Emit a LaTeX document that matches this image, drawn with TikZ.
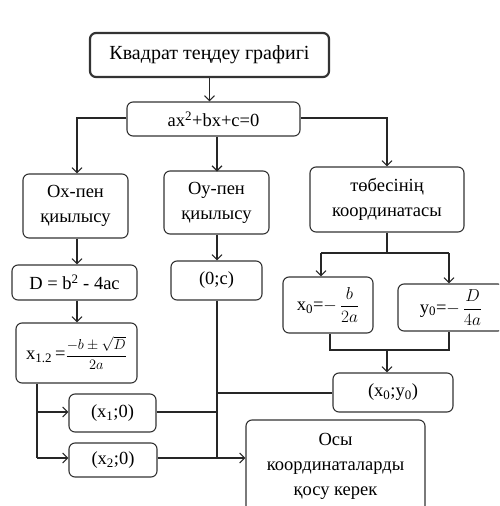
\documentclass[tikz,border=0pt]{standalone}
\usepackage{fontspec}
\setmainfont{Liberation Serif}
\usetikzlibrary{arrows.meta}
\tikzset{
  box/.style={draw=black!80, line width=1.1pt, rounded corners=6pt, inner sep=0pt, align=center, font=\fontsize{18.5}{25}\selectfont},
  conn/.style={draw=black!85, line width=1.1pt},
  arr/.style={conn, -{Straight Barb[length=5pt,width=10pt,line width=1.1pt]}},
}
\newcommand{\bx}[6]{\node[box, minimum width=#4pt, minimum height=#5pt, #6] (#1) at (#2,#3)}
\newcommand{\fr}[3]{{\fontsize{#1}{#1}\selectfont$\displaystyle\frac{#2}{#3}$}}
\begin{document}
\begin{tikzpicture}[x=1pt,y=-1pt]
\useasboundingbox (0,0) rectangle (499,506);
\clip (0,0) rectangle (499,506);
% nodes
\bx{title}{209.5}{55}{239}{44}{line width=2.2pt, font=\fontsize{20}{24}\selectfont}{Квадрат теңдеу графигі};
\bx{eq}{213.5}{119}{173}{34}{font=\fontsize{18.5}{22}\selectfont}{ax\textsuperscript{2}+bx+c=0};
\bx{ox}{75.5}{206}{105}{64}{}{Ох-пен\\қиылысу};
\bx{oy}{216.5}{202.5}{105}{63}{}{Оу-пен\\қиылысу};
\bx{tobe}{387}{199.5}{154}{65}{}{төбесінің\\координатасы};
\bx{D}{74.5}{282.5}{125}{35}{}{D = b\textsuperscript{2} - 4ac};
\bx{oc}{216.5}{280.5}{91}{39}{}{(0;c)};
\bx{xz}{328}{305}{90}{56}{}{x\textsubscript{0}=$-$\,\fr{17}{b}{2a}};
\bx{yz}{451}{307.5}{106}{47}{}{y\textsubscript{0}=$-$\,\fr{17}{D}{4a}};
\bx{xot}{76.5}{353}{121}{60}{}{x\textsubscript{1.2}\,=\fr{15}{-b\pm\sqrt{D}}{2a}};
\bx{xa}{112.5}{413}{87}{38}{}{(x\textsubscript{1};0)};
\bx{xb}{113}{460}{88}{34}{}{(x\textsubscript{2};0)};
\bx{xy}{393}{392.5}{120}{39}{}{(x\textsubscript{0};y\textsubscript{0})};
\bx{osy}{335.5}{466}{179}{92}{}{Осы\\координаталарды\\қосу керек};
% helper coordinates
\coordinate (eqL) at (77,118);
\coordinate (eqR) at (387,118);
\coordinate (tb) at (387,253);
\coordinate (tbL) at (321,253);
\coordinate (tbR) at (449,253);
\coordinate (mj) at (387,350);
\coordinate (mjL) at (330,350);
\coordinate (mjR) at (449,350);
\coordinate (lx) at (37,412);
\coordinate (lxb) at (37,458);
\coordinate (vA) at (217,412);
\coordinate (vB) at (217,458);
\coordinate (vC) at (217,393);
% connectors
\draw[arr] (title.south) -- (title.south |- eq.north);
\draw[arr] (eq.south -| oy.north) ++(0.5,0) -- ++(0,35);
\draw[arr] (eq.west |- eqL) -- (eqL) -- (eqL |- ox.north);
\draw[arr] (eq.east |- eqR) -- (eqR) -- (eqR |- tobe.north);
\draw[arr] (ox.south -| eqL) -- (eqL |- D.north);
\draw[arr] (oy.south -| vA) -- (vA |- oc.north);
\draw[arr] (D.south -| eqL) -- (eqL |- xot.north);
\draw[conn] (tobe.south -| tb) -- (tb);
\draw[arr] (tbL) -- (tbL |- xz.north);
\draw[arr] (tbR) -- (tbR |- yz.north);
\draw[conn] (tbL) -- (tbR);
\draw[conn] (mjL |- xz.south) -- (mjL) -- (mjR) -- (mjR |- yz.south);
\draw[arr] (mj) -- (mj |- xy.north);
\draw[conn] (lx |- xot.south) -- (lxb);
\draw[arr] (lx) -- (lx -| xa.west);
\draw[arr] (lxb) -- (lxb -| xb.west);
\draw[conn] (xa.east |- vA) -- (vA);
\draw[conn] (oc.south -| vA) -- (vB);
\draw[conn] (xy.west |- vC) -- (vC);
\draw[arr] (xb.east |- vB) -- (vB -| osy.west);
\end{tikzpicture}
\end{document}
